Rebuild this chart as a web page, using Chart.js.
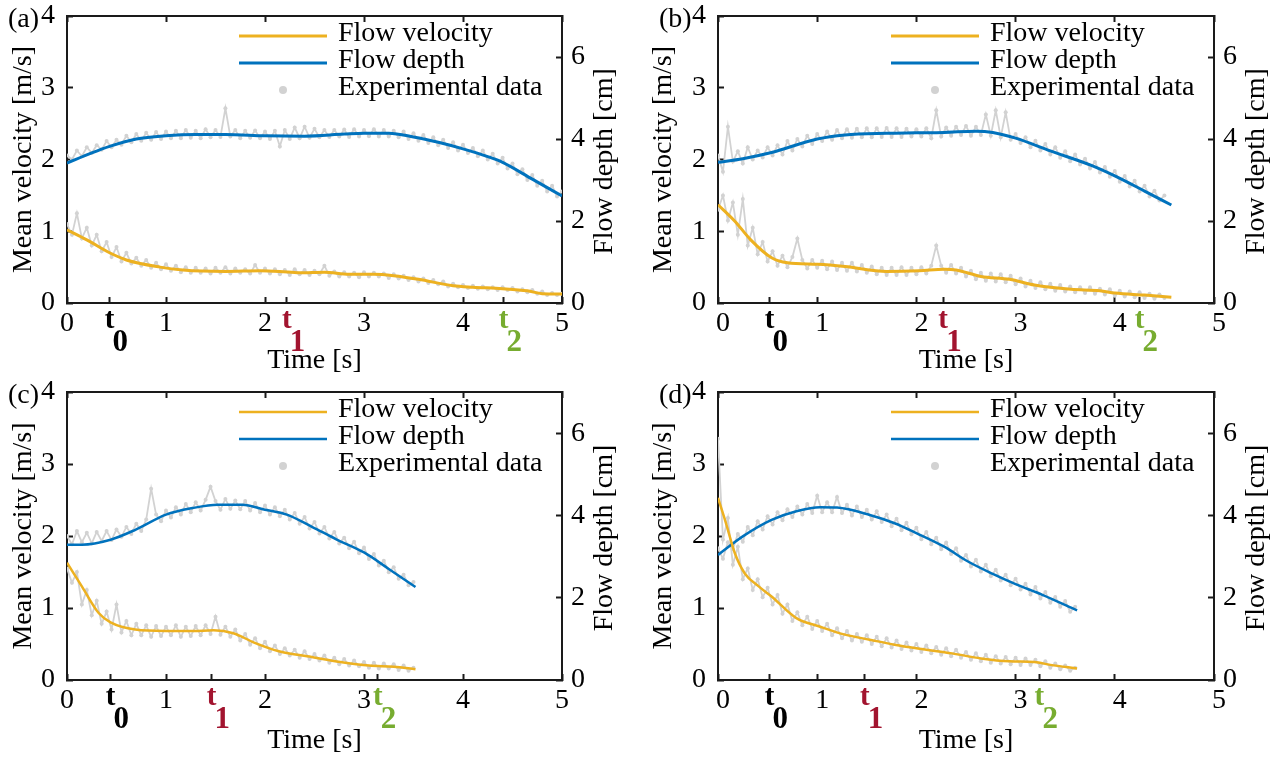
<!DOCTYPE html>
<html>
<head>
<meta charset="utf-8">
<title>Flow velocity and depth</title>
<script src="https://cdn.jsdelivr.net/npm/chart.js@4.4.1/dist/chart.umd.min.js"></script>
<style>
    html, body { margin: 0; padding: 0; background: #fff; }
    #wrap { position: relative; width: 1282px; height: 760px; overflow: hidden; }
    canvas { position: absolute; }
</style>
</head>
<body>
<div id="wrap">
    <canvas id="pa" width="640" height="380" style="left:0;top:0"></canvas>
    <canvas id="pb" width="642" height="380" style="left:640px;top:0"></canvas>
    <canvas id="pc" width="640" height="380" style="left:0;top:380px"></canvas>
    <canvas id="pd" width="642" height="380" style="left:640px;top:380px"></canvas>
</div>
<script>
// axis ticks
const xTicks = [0, 1, 2, 3, 4, 5];
const velTicks = [0, 1, 2, 3, 4];
const depthTicks = [0, 2, 4, 6];
const markSubs = ['0', '1', '2'];
const expStep = 0.05; // s between experimental samples

// (a)
const fitVelT_a = [0, 0.2, 0.43, 0.6, 0.94, 1.17, 1.6, 1.95, 2.15, 2.35, 2.6, 2.85, 3.1, 3.3, 3.55, 3.9, 4.1, 4.4, 4.65, 4.8, 5.0];
const fitVel_a = [1.02, 0.88, 0.70, 0.60, 0.50, 0.46, 0.44, 0.45, 0.44, 0.42, 0.43, 0.40, 0.40, 0.38, 0.33, 0.24, 0.22, 0.20, 0.17, 0.13, 0.125];
const fitDepthT_a = [0, 0.25, 0.43, 0.7, 1.0, 1.3, 1.6, 2.0, 2.4, 2.8, 3.0, 3.25, 3.5, 3.75, 4.0, 4.25, 4.4, 4.7, 5.0];
const fitDepth_a = [3.41, 3.66, 3.82, 4.0, 4.08, 4.11, 4.11, 4.08, 4.07, 4.12, 4.14, 4.14, 4.05, 3.92, 3.76, 3.57, 3.43, 3.02, 2.61];
const expVel_a = [1.10, 0.95, 1.25, 0.90, 1.05, 0.80, 0.95, 0.72, 0.85, 0.64,
    0.78, 0.58, 0.70, 0.55, 0.63, 0.52, 0.60, 0.49, 0.56, 0.47,
    0.54, 0.45, 0.52, 0.43, 0.50, 0.42, 0.49, 0.42, 0.48, 0.41,
    0.49, 0.42, 0.50, 0.41, 0.48, 0.42, 0.47, 0.41, 0.53, 0.42,
    0.48, 0.41, 0.47, 0.40, 0.46, 0.39, 0.47, 0.40, 0.46, 0.39,
    0.45, 0.40, 0.52, 0.38, 0.44, 0.37, 0.43, 0.37, 0.42, 0.36,
    0.43, 0.37, 0.42, 0.37, 0.41, 0.35, 0.40, 0.34, 0.38, 0.32,
    0.36, 0.30, 0.34, 0.28, 0.32, 0.26, 0.30, 0.23, 0.27, 0.22,
    0.25, 0.21, 0.24, 0.20, 0.23, 0.19, 0.22, 0.18, 0.22, 0.18,
    0.21, 0.16, 0.19, 0.15, 0.18, 0.13, 0.16, 0.11, 0.14, 0.11, 0.13];
const expDepth_a = [3.60, 3.50, 3.72, 3.58, 3.80, 3.66, 3.85, 3.74, 3.95, 3.80,
    3.98, 3.86, 4.08, 3.92, 4.12, 3.96, 4.15, 3.98, 4.17, 4.00,
    4.18, 4.02, 4.20, 4.02, 4.22, 4.03, 4.20, 4.02, 4.24, 4.04,
    4.22, 4.05, 4.75, 4.06, 4.22, 4.02, 4.20, 4.03, 4.21, 4.02,
    4.18, 4.00, 4.20, 3.82, 4.22, 4.00, 4.28, 4.02, 4.30, 4.03,
    4.25, 4.04, 4.22, 4.05, 4.22, 4.06, 4.23, 4.05, 4.24, 4.06,
    4.22, 4.07, 4.24, 4.06, 4.22, 4.06, 4.20, 4.04, 4.18, 4.00,
    4.14, 3.96, 4.10, 3.90, 4.04, 3.85, 3.98, 3.78, 3.92, 3.72,
    3.86, 3.66, 3.78, 3.58, 3.72, 3.50, 3.64, 3.40, 3.54, 3.28,
    3.40, 3.14, 3.26, 3.00, 3.12, 2.86, 2.98, 2.72, 2.86, 2.60, 2.72];
const marks_a = [0.43, 2.22, 4.41];

// (b)
const fitVelT_b = [0, 0.17, 0.33, 0.54, 0.7, 1.0, 1.28, 1.7, 2.03, 2.28, 2.4, 2.65, 2.94, 3.19, 3.56, 3.85, 4.0, 4.3, 4.57];
const fitVel_b = [1.37, 1.14, 0.88, 0.63, 0.56, 0.54, 0.51, 0.44, 0.45, 0.47, 0.46, 0.37, 0.33, 0.25, 0.19, 0.17, 0.14, 0.11, 0.08];
const fitDepthT_b = [0, 0.25, 0.54, 1.0, 1.28, 1.7, 2.0, 2.28, 2.6, 2.77, 3.0, 3.35, 3.77, 4.0, 4.3, 4.57];
const fitDepth_b = [3.43, 3.52, 3.67, 4.0, 4.10, 4.14, 4.15, 4.16, 4.19, 4.16, 4.02, 3.71, 3.35, 3.10, 2.73, 2.39];
const expVel_b = [1.30, 1.50, 1.15, 1.40, 0.95, 1.45, 0.80, 1.05, 0.68, 0.85,
    0.58, 0.72, 0.52, 0.66, 0.50, 0.64, 0.90, 0.60, 0.48, 0.60,
    0.49, 0.59, 0.47, 0.58, 0.46, 0.56, 0.45, 0.56, 0.44, 0.53,
    0.42, 0.51, 0.40, 0.49, 0.39, 0.49, 0.39, 0.50, 0.39, 0.49,
    0.40, 0.50, 0.41, 0.52, 0.80, 0.52, 0.42, 0.53, 0.41, 0.49,
    0.37, 0.45, 0.33, 0.42, 0.31, 0.41, 0.30, 0.40, 0.29, 0.38,
    0.26, 0.34, 0.23, 0.31, 0.21, 0.29, 0.19, 0.27, 0.17, 0.25,
    0.16, 0.23, 0.15, 0.22, 0.14, 0.22, 0.13, 0.20, 0.12, 0.19,
    0.10, 0.17, 0.09, 0.16, 0.08, 0.15, 0.07, 0.13, 0.06, 0.12, 0.07];
const expDepth_b = [3.60, 3.20, 4.30, 3.45, 3.70, 3.40, 3.80, 3.50, 3.72, 3.55,
    3.80, 3.60, 3.85, 3.62, 3.95, 3.72, 4.00, 3.82, 4.08, 3.88,
    4.12, 3.95, 4.18, 3.98, 4.22, 4.02, 4.24, 4.03, 4.25, 4.04,
    4.26, 4.04, 4.26, 4.05, 4.27, 4.05, 4.26, 4.05, 4.25, 4.06,
    4.24, 4.06, 4.26, 4.02, 4.70, 4.06, 4.28, 4.08, 4.30, 4.10,
    4.32, 4.08, 4.30, 4.10, 4.60, 4.08, 4.70, 4.04, 4.65, 3.98,
    4.12, 3.90, 4.04, 3.80, 3.96, 3.72, 3.88, 3.62, 3.80, 3.54,
    3.70, 3.46, 3.62, 3.38, 3.52, 3.28, 3.44, 3.18, 3.32, 3.08,
    3.22, 2.96, 3.10, 2.84, 2.98, 2.72, 2.86, 2.60, 2.74, 2.50, 2.62];
const marks_b = [0.52, 2.27, 4.25];

// (c)
const fitVelT_c = [0, 0.15, 0.32, 0.44, 0.69, 1.0, 1.27, 1.48, 1.68, 1.89, 2.14, 2.47, 2.76, 3.05, 3.3, 3.52];
const fitVel_c = [1.63, 1.30, 0.93, 0.80, 0.70, 0.68, 0.68, 0.69, 0.65, 0.52, 0.40, 0.32, 0.25, 0.20, 0.185, 0.15];
const fitDepthT_c = [0, 0.15, 0.44, 0.69, 1.0, 1.27, 1.52, 1.77, 2.0, 2.22, 2.47, 2.72, 3.0, 3.25, 3.52];
const fitDepth_c = [3.29, 3.29, 3.41, 3.65, 4.02, 4.18, 4.26, 4.26, 4.14, 4.02, 3.73, 3.42, 3.10, 2.70, 2.26];
const expVel_c = [1.55, 1.35, 1.50, 1.05, 1.25, 0.90, 1.10, 0.78, 0.95, 0.70,
    1.05, 0.66, 0.82, 0.62, 0.78, 0.62, 0.76, 0.60, 0.75, 0.61,
    0.74, 0.62, 0.76, 0.60, 0.74, 0.61, 0.75, 0.62, 0.76, 0.64,
    0.88, 0.63, 0.74, 0.60, 0.70, 0.55, 0.64, 0.49, 0.58, 0.44,
    0.53, 0.40, 0.48, 0.36, 0.44, 0.34, 0.42, 0.31, 0.40, 0.29,
    0.36, 0.27, 0.34, 0.24, 0.31, 0.22, 0.29, 0.20, 0.27, 0.19,
    0.25, 0.17, 0.24, 0.16, 0.23, 0.16, 0.22, 0.14, 0.20, 0.13, 0.17];
const expDepth_c = [3.50, 3.30, 3.62, 3.35, 3.58, 3.32, 3.60, 3.38, 3.62, 3.40,
    3.66, 3.48, 3.72, 3.55, 3.80, 3.62, 3.90, 4.65, 4.02, 3.86,
    4.12, 3.95, 4.20, 4.02, 4.28, 4.08, 4.32, 4.12, 4.38, 4.70,
    4.35, 4.14, 4.40, 4.16, 4.36, 4.15, 4.35, 4.12, 4.30, 4.08,
    4.24, 4.02, 4.20, 3.98, 4.14, 3.90, 4.06, 3.80, 3.96, 3.68,
    3.84, 3.56, 3.72, 3.44, 3.60, 3.32, 3.46, 3.20, 3.36, 3.08,
    3.22, 2.94, 3.06, 2.78, 2.90, 2.62, 2.74, 2.46, 2.56, 2.30, 2.38];
const marks_c = [0.44, 1.46, 3.14];

// (d)
const fitVelT_d = [0, 0.08, 0.17, 0.27, 0.41, 0.54, 0.79, 1.03, 1.28, 1.53, 1.78, 2.0, 2.36, 2.65, 2.94, 3.19, 3.35, 3.62];
const fitVel_d = [2.53, 2.18, 1.76, 1.48, 1.30, 1.16, 0.86, 0.74, 0.63, 0.56, 0.49, 0.44, 0.37, 0.30, 0.26, 0.25, 0.21, 0.16];
const fitDepthT_d = [0, 0.25, 0.54, 0.79, 1.03, 1.2, 1.53, 1.78, 2.0, 2.28, 2.52, 2.77, 3.0, 3.27, 3.62];
const fitDepth_d = [3.04, 3.49, 3.89, 4.10, 4.20, 4.19, 4.01, 3.81, 3.57, 3.24, 2.88, 2.58, 2.33, 2.07, 1.69];
const expVel_d = [3.35, 1.95, 2.25, 1.60, 1.85, 1.40, 1.55, 1.25, 1.40, 1.15,
    1.28, 1.05, 1.18, 0.92, 1.05, 0.82, 0.94, 0.76, 0.88, 0.71,
    0.82, 0.68, 0.78, 0.62, 0.72, 0.58, 0.68, 0.55, 0.64, 0.53,
    0.62, 0.50, 0.60, 0.47, 0.58, 0.45, 0.55, 0.43, 0.52, 0.41,
    0.50, 0.39, 0.48, 0.37, 0.46, 0.35, 0.44, 0.33, 0.42, 0.31,
    0.39, 0.28, 0.37, 0.26, 0.35, 0.24, 0.33, 0.23, 0.32, 0.22,
    0.31, 0.21, 0.30, 0.21, 0.28, 0.19, 0.26, 0.17, 0.23, 0.15,
    0.20, 0.13, 0.17];
const expDepth_d = [3.20, 2.95, 3.35, 3.18, 3.55, 3.36, 3.72, 3.52, 3.86, 3.66,
    3.98, 3.78, 4.08, 3.88, 4.15, 3.96, 4.22, 4.02, 4.28, 4.06,
    4.48, 4.08, 4.32, 4.08, 4.45, 4.06, 4.26, 4.00, 4.22, 3.96,
    4.14, 3.90, 4.10, 3.84, 4.02, 3.74, 3.92, 3.64, 3.82, 3.54,
    3.70, 3.42, 3.60, 3.30, 3.46, 3.18, 3.34, 3.06, 3.20, 2.90,
    3.04, 2.76, 2.92, 2.64, 2.80, 2.52, 2.68, 2.42, 2.56, 2.30,
    2.46, 2.20, 2.34, 2.08, 2.26, 1.98, 2.14, 1.88, 2.02, 1.78,
    1.92, 1.66, 1.78];
const marks_d = [0.52, 1.48, 3.24];

const SERIF = "'Liberation Serif', 'Times New Roman', serif";
const ORANGE = '#EDB120', BLUE = '#0072BD', GRAY = '#d2d2d2', AX = '#1a1a1a';
const markColors = ['#000000', '#A2142F', '#77AC30'];

Chart.defaults.font.family = SERIF;
Chart.defaults.font.size = 28;
Chart.defaults.color = '#000';

const pts = (ts, vs) => ts.map((t, i) => ({ x: t, y: vs[i] }));
const expPts = vs => vs.map((v, i) => ({ x: +(i * expStep).toFixed(2), y: v }));
const asTicks = arr => arr.map(v => ({ value: v }));

// draws panel tag, right title, t-markers and the in-plot legend
const decorPlugin = {
    id: 'panelDecor',
    afterDraw(chart, args, o) {
        const { ctx, chartArea: a, scales } = chart;
        ctx.save();
        ctx.fillStyle = '#000';
        ctx.font = `28px ${SERIF}`;
        ctx.textAlign = 'left';
        ctx.textBaseline = 'alphabetic';
        ctx.fillText(o.tag, a.left - 59, a.top + 11);

        ctx.save();
        ctx.translate(a.right + 43, (a.top + a.bottom) / 2 + 2);
        ctx.rotate(-Math.PI / 2);
        ctx.textAlign = 'center';
        ctx.textBaseline = 'middle';
        ctx.fillText('Flow depth [cm]', 0, 0);
        ctx.restore();

        o.marks.forEach((t, i) => {
            const x = scales.x.getPixelForValue(t);
            ctx.fillStyle = markColors[i];
            ctx.textBaseline = 'alphabetic';
            ctx.font = `bold 29px ${SERIF}`;
            ctx.textAlign = 'center';
            ctx.fillText('t', x, a.bottom + 25);
            ctx.font = `bold 31px ${SERIF}`;
            ctx.textAlign = 'left';
            ctx.fillText(markSubs[i], x + 3, a.bottom + 48);
        });

        const items = chart.data.datasets.filter(d => d.inLegend);
        items.forEach((d, i) => {
            const y = a.top + 20 + 27 * i;
            const x0 = a.right - 323, x1 = a.right - 235;
            if (d.legendDot) {
                ctx.fillStyle = GRAY;
                ctx.beginPath();
                ctx.arc((x0 + x1) / 2, y, 4, 0, Math.PI * 2);
                ctx.fill();
            } else {
                ctx.strokeStyle = d.borderColor;
                ctx.lineWidth = d.borderWidth;
                ctx.beginPath();
                ctx.moveTo(x0, y);
                ctx.lineTo(x1, y);
                ctx.stroke();
            }
            ctx.fillStyle = '#000';
            ctx.font = `28px ${SERIF}`;
            ctx.textAlign = 'left';
            ctx.textBaseline = 'middle';
            ctx.fillText(d.label, a.right - 224, y - 2);
        });
        ctx.restore();
    }
};

const panels = [
    { id: 'pa', tag: '(a)', box: { l: 67, r: 562, t: 16, b: 303 }, shift: 0, lw: 3,
      fitVelT: fitVelT_a, fitVel: fitVel_a, fitDepthT: fitDepthT_a, fitDepth: fitDepth_a,
      expVel: expVel_a, expDepth: expDepth_a, marks: marks_a },
    { id: 'pb', tag: '(b)', box: { l: 78, r: 574, t: 16, b: 303 }, shift: 5, lw: 3,
      fitVelT: fitVelT_b, fitVel: fitVel_b, fitDepthT: fitDepthT_b, fitDepth: fitDepth_b,
      expVel: expVel_b, expDepth: expDepth_b, marks: marks_b },
    { id: 'pc', tag: '(c)', box: { l: 67, r: 562, t: 12, b: 300 }, shift: 0, lw: 2.5,
      fitVelT: fitVelT_c, fitVel: fitVel_c, fitDepthT: fitDepthT_c, fitDepth: fitDepth_c,
      expVel: expVel_c, expDepth: expDepth_c, marks: marks_c },
    { id: 'pd', tag: '(d)', box: { l: 78, r: 574, t: 12, b: 300 }, shift: 5, lw: 2.5,
      fitVelT: fitVelT_d, fitVel: fitVel_d, fitDepthT: fitDepthT_d, fitDepth: fitDepth_d,
      expVel: expVel_d, expDepth: expDepth_d, marks: marks_d }
];

function makePanel(p) {
    const canvas = document.getElementById(p.id);
    const W = canvas.width, H = canvas.height;
    const fixW = w => s => { s.width = w; s.paddingTop = 0; s.paddingBottom = 0; };
    const fixH = h => s => { s.height = h; s.paddingLeft = 0; s.paddingRight = 0; };
    const grid = { drawOnChartArea: false, drawTicks: true, tickLength: -6, tickWidth: 2, tickColor: AX };
    const border = { display: true, color: AX, width: 2 };
    const expStyle = {
        borderColor: GRAY, borderWidth: 1.8, pointRadius: 2,
        pointBackgroundColor: GRAY, pointBorderWidth: 0, tension: 0
    };

    new Chart(canvas, {
        type: 'line',
        data: {
            datasets: [
                { label: 'Flow velocity', data: pts(p.fitVelT, p.fitVel), yAxisID: 'y',
                  borderColor: ORANGE, borderWidth: p.lw, pointRadius: 0,
                  cubicInterpolationMode: 'monotone', order: 0, inLegend: true },
                { label: 'Flow depth', data: pts(p.fitDepthT, p.fitDepth), yAxisID: 'y1',
                  borderColor: BLUE, borderWidth: p.lw, pointRadius: 0,
                  cubicInterpolationMode: 'monotone', order: 1, inLegend: true },
                { label: 'Experimental data', data: expPts(p.expVel), yAxisID: 'y',
                  ...expStyle, order: 2, inLegend: true, legendDot: true },
                { label: 'Experimental data', data: expPts(p.expDepth), yAxisID: 'y1',
                  ...expStyle, order: 3 }
            ]
        },
        options: {
            responsive: false,
            animation: false,
            devicePixelRatio: 1,
            layout: { padding: 0 },
            plugins: {
                legend: { display: false },
                tooltip: { enabled: false },
                panelDecor: { tag: p.tag, marks: p.marks }
            },
            scales: {
                x: {
                    type: 'linear', position: 'bottom', min: 0, max: 5,
                    afterBuildTicks: s => { s.ticks = asTicks([...xTicks, ...p.marks].sort((a, b) => a - b)); },
                    ticks: {
                        autoSkip: false, maxRotation: 0, minRotation: 0, padding: 10, labelOffset: p.shift,
                        callback: v => xTicks.includes(v) ? String(v) : ''
                    },
                    grid, border,
                    title: { display: true, text: 'Time [s]', padding: { top: 0, bottom: 3 } },
                    afterFit: fixH(H - p.box.b)
                },
                x2: {
                    type: 'linear', position: 'top', min: 0, max: 5,
                    afterBuildTicks: s => { s.ticks = asTicks(xTicks); },
                    ticks: { display: false },
                    grid, border,
                    afterFit: fixH(p.box.t)
                },
                y: {
                    type: 'linear', position: 'left', min: 0, max: 4,
                    afterBuildTicks: s => { s.ticks = asTicks(velTicks); },
                    ticks: { padding: 18 },
                    grid, border,
                    title: { display: true, text: 'Mean velocity [m/s]', padding: { top: 7, bottom: 0 } },
                    afterFit: fixW(p.box.l)
                },
                y1: {
                    type: 'linear', position: 'right', min: 0, max: 7,
                    afterBuildTicks: s => { s.ticks = asTicks(depthTicks); },
                    ticks: { padding: 15 },
                    grid, border,
                    afterFit: fixW(W - p.box.r)
                }
            }
        },
        plugins: [decorPlugin]
    });
}

panels.forEach(makePanel);
</script>
</body>
</html>
